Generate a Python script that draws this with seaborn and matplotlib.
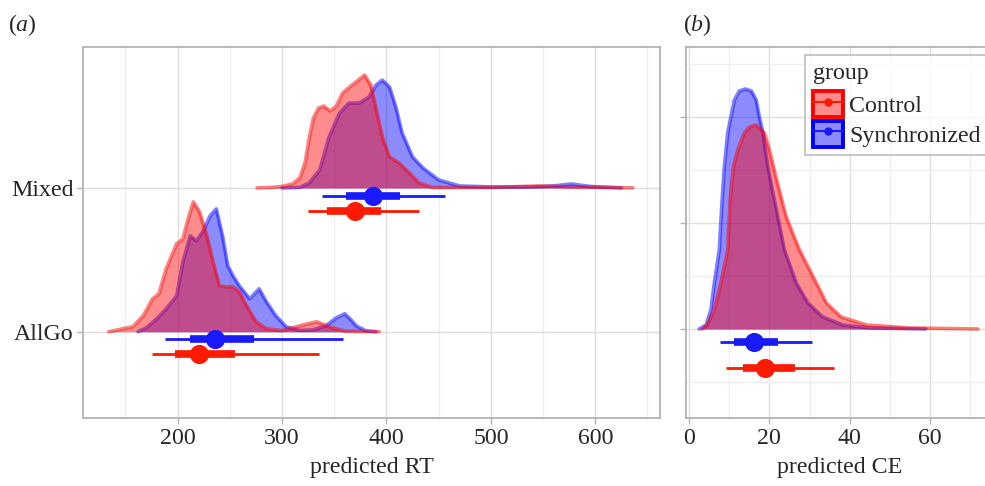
import numpy as np
import pandas as pd
import matplotlib
matplotlib.use("Agg")
import matplotlib.pyplot as plt
import seaborn as sns
from matplotlib.patches import Patch
from matplotlib.lines import Line2D
from matplotlib.legend_handler import HandlerTuple
from matplotlib.ticker import MultipleLocator

# ---------------- data ----------------
groups = ["Control", "Synchronized"]
rt_conditions = ["AllGo", "Mixed"]

# Density heights (x value, height in px above the baseline)
rt_mixed_control_x = [276, 290, 300, 310, 317, 322, 326, 330, 335, 340, 346, 352, 358, 367, 373, 379, 385, 391, 396, 403, 412, 422, 431, 444, 500, 545, 580, 610, 636]
rt_mixed_control_h = [0, 0.5, 1.5, 4, 10, 25, 50, 70, 80, 82, 77, 82, 95, 103, 108, 113, 103, 75, 51, 31, 25, 15, 5, 0.5, 0.5, 2, 1, 0.5, 0]
rt_mixed_sync_x = [300, 317, 326, 336, 345, 355, 364, 374, 383, 390, 396, 403, 409, 415, 425, 435, 450, 470, 500, 540, 560, 577, 595, 625]
rt_mixed_sync_h = [0, 0.5, 5, 18, 51, 75, 85, 85, 91, 103, 108, 101, 81, 55, 31, 20, 8, 2, 1, 1, 2, 4, 1.5, 0]
rt_allgo_control_x = [134, 157, 167, 176, 182, 189, 199, 205, 210, 215, 221, 228, 234, 240, 247, 253, 259, 266, 275, 285, 300, 317, 333, 348, 361, 393]
rt_allgo_control_h = [0, 5, 16, 33, 38, 63, 88, 93, 113, 130, 120, 96, 70, 46, 45, 45, 40, 26, 10, 3, 1, 6, 10, 4, 0.5, 0]
rt_allgo_sync_x = [162, 170, 180, 189, 199, 205, 212, 218, 224, 231, 237, 243, 248, 253, 259, 269, 278, 285, 294, 304, 317, 330, 342, 352, 360, 366, 371, 380, 390]
rt_allgo_sync_h = [0, 4, 13, 23, 36, 70, 96, 91, 100, 116, 123, 96, 66, 56, 46, 33, 43, 30, 16, 5, 1.3, 2, 6, 14, 18, 12, 6, 1, 0]

ce_control_x = [3.3, 4.5, 6.25, 7.9, 9.6, 10.2, 11, 12.1, 13.75, 15, 16.7, 18.75, 20, 22, 24.2, 27.5, 31.7, 34.2, 37.9, 44.2, 55, 72]
ce_control_h = [0, 4, 19, 46, 79, 129, 162, 179, 196, 202, 204, 196, 179, 146, 112, 79, 46, 26, 12, 4, 1, 0]
ce_sync_x = [2.5, 4.2, 5.4, 6.25, 7.5, 8.2, 8.75, 9.6, 11.25, 12.5, 14, 15.5, 16.7, 17.5, 18.4, 19.6, 21.25, 23.75, 26.7, 29.6, 33.3, 38.3, 45, 59]
ce_sync_h = [0, 4, 19, 46, 79, 129, 162, 196, 229, 238, 240, 238, 229, 212, 196, 162, 129, 79, 46, 26, 12, 4, 1, 0]

# point intervals: [lo95, lo66, point, hi66, hi95]
rt_interval_mixed_control = [325, 343, 370, 395, 431]
rt_interval_mixed_sync = [338, 361, 387, 413, 456]
rt_interval_allgo_control = [175, 197, 220, 255, 335]
rt_interval_allgo_sync = [188, 212, 236, 273, 358]
ce_interval_control = [9.2, 13.3, 19.0, 26.4, 36.2]
ce_interval_sync = [7.75, 11.25, 16.2, 22.25, 30.6]

colors = {"Control": "#FF1A00", "Synchronized": "#1A1AFF"}
fills = {"Control": "#FF0000", "Synchronized": "#0000FF"}

# ---------------- style ----------------
sns.set_theme(style="white")
plt.rcParams["font.family"] = ["Liberation Serif", "DejaVu Serif"]
plt.rcParams["mathtext.fontset"] = "custom"
plt.rcParams["mathtext.it"] = "Liberation Serif:italic"
plt.rcParams["mathtext.rm"] = "Liberation Serif"
FS = 17.2

fig = plt.figure(figsize=(9.85, 4.86), dpi=100)
W, H = 985, 486
def ax_rect(l, t, r, b):
    return [l / W, 1 - b / H, (r - l) / W, (b - t) / H]

axA = fig.add_axes(ax_rect(83, 47, 660, 418))
axB = fig.add_axes(ax_rect(686, 47, 994, 418))

grid_major = "#DEDEDE"
grid_minor = "#EFEFEF"
spine_col = "#B3B3B3"

def style_axes(ax):
    for s in ax.spines.values():
        s.set_color(spine_col)
        s.set_linewidth(1.3)
    ax.tick_params(axis="both", which="major", length=4, width=1, color=spine_col,
                   labelsize=FS, pad=3, direction="out", bottom=True, left=True)
    ax.tick_params(axis="both", which="minor", length=0)
    ax.set_axisbelow(True)

def draw_density(ax, xs, hs, base, scale, key, z):
    xs = np.asarray(xs, float)
    ys = base + np.asarray(hs, float) / scale
    ax.fill_between(xs, base, ys, color=fills[key], alpha=0.45, lw=0, zorder=z)
    sns.lineplot(x=xs, y=ys, ax=ax, color=fills[key], alpha=0.5, lw=2.6,
                 sort=False, estimator=None, zorder=z + 0.5, legend=False)

def draw_interval(ax, iv, y, key, ms):
    c = colors[key]
    ax.plot([iv[0], iv[4]], [y, y], color=c, lw=2.0, solid_capstyle="butt", zorder=10)
    ax.plot([iv[1], iv[3]], [y, y], color=c, lw=5.5, solid_capstyle="butt", zorder=11)
    sns.scatterplot(x=[iv[2]], y=[y], ax=ax, color=c, s=ms, linewidth=0, zorder=12, legend=False)

# ---------------- panel (a) ----------------
style_axes(axA)
base = {"AllGo": 1.0, "Mixed": 2.0}
draw_density(axA, rt_allgo_sync_x, rt_allgo_sync_h, base["AllGo"], 144, "Synchronized", 3)
draw_density(axA, rt_allgo_control_x, rt_allgo_control_h, base["AllGo"], 144, "Control", 4)
draw_density(axA, rt_mixed_sync_x, rt_mixed_sync_h, base["Mixed"], 144, "Synchronized", 3)
draw_density(axA, rt_mixed_control_x, rt_mixed_control_h, base["Mixed"], 144, "Control", 4)
draw_interval(axA, rt_interval_allgo_sync, base["AllGo"] - 0.05, "Synchronized", 190)
draw_interval(axA, rt_interval_allgo_control, base["AllGo"] - 0.155, "Control", 190)
draw_interval(axA, rt_interval_mixed_sync, base["Mixed"] - 0.055, "Synchronized", 190)
draw_interval(axA, rt_interval_mixed_control, base["Mixed"] - 0.16, "Control", 190)

axA.set_xlim(109.3, 662)
axA.set_ylim(0.4, 2.98)
axA.xaxis.set_major_locator(MultipleLocator(100))
axA.xaxis.set_minor_locator(MultipleLocator(50))
axA.set_yticks([1, 2])
axA.set_yticklabels(rt_conditions)
axA.grid(True, which="major", color=grid_major, lw=1.0)
axA.grid(True, which="minor", axis="x", color=grid_minor, lw=1.0)
axA.set_xlabel("predicted RT", fontsize=FS, labelpad=6)
axA.set_ylabel("")

# ---------------- panel (b) ----------------
style_axes(axB)
draw_density(axB, ce_sync_x, ce_sync_h, 0.0, 106, "Synchronized", 3)
draw_density(axB, ce_control_x, ce_control_h, 0.0, 106, "Control", 4)
draw_interval(axB, ce_interval_sync, -0.12, "Synchronized", 190)
draw_interval(axB, ce_interval_control, -0.37, "Control", 190)
axB.set_xlim(-0.8, 76)
axB.set_ylim(-0.84, 2.66)
axB.xaxis.set_major_locator(MultipleLocator(20))
axB.xaxis.set_minor_locator(MultipleLocator(10))
axB.yaxis.set_major_locator(MultipleLocator(1))
axB.yaxis.set_minor_locator(MultipleLocator(0.5))
axB.tick_params(axis="y", labelleft=False)
axB.grid(True, which="major", color=grid_major, lw=1.0)
axB.grid(True, which="minor", color=grid_minor, lw=1.0)
axB.set_xlabel("predicted CE", fontsize=FS, labelpad=6)
axB.set_ylabel("")

# legend
handles = []
for g in groups:
    p = Patch(facecolor=matplotlib.colors.to_rgba(fills[g], 0.45), edgecolor=fills[g], lw=2.8)
    l = Line2D([], [], color=colors[g], marker="o", ms=5, lw=1.5)
    handles.append((p, l))
leg = fig.legend(handles, groups, handler_map={tuple: HandlerTuple(ndivide=1)},
                 title="group", loc="upper left", bbox_to_anchor=(805 / W, 1 - 55 / H),
                 bbox_transform=fig.transFigure, borderaxespad=0,
                 fontsize=FS, title_fontsize=FS,
                 frameon=True, fancybox=False, handlelength=1.25, handleheight=1.3,
                 handletextpad=0.25, labelspacing=0.15, borderpad=0.35, alignment="left")
leg.get_frame().set_edgecolor(spine_col)
leg.get_frame().set_linewidth(1.3)
leg._legend_box.sep = 5

fig.text(8 / W, 1 - 25 / H, r"($a$)", fontsize=FS, va="center", ha="left")
fig.text(683 / W, 1 - 25 / H, r"($b$)", fontsize=FS, va="center", ha="left")

fig.savefig("out.png", dpi=100)
